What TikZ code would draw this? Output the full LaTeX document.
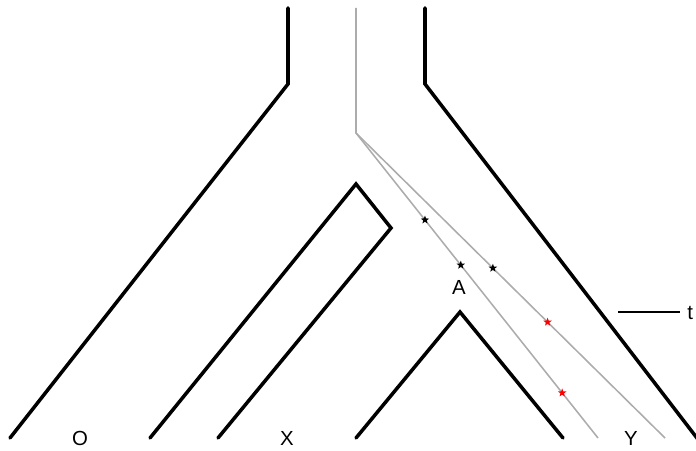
\documentclass[tikz,border=0pt]{standalone}
\usepackage{fontspec}
\setmainfont{Liberation Sans}
\usetikzlibrary{shapes.geometric,calc}

\begin{document}
\begin{tikzpicture}[x=0.025cm, y=-0.025cm,
  branch/.style={line width=2.5pt, line cap=round, line join=miter},
  gene/.style={gray!65, line width=1.1pt, line join=miter},
  mut/.style={star, star points=5, star point ratio=2.4, fill=#1, draw=none,
    inner sep=0pt, outer sep=0pt, minimum size=2.2mm},
  lbl/.style={font=\fontsize{14.5}{16}\selectfont, inner sep=0pt}]
  \useasboundingbox (0,0) rectangle (696,451);

  % species tree
  \draw[branch] (288,8) -- (288,84) -- (10,438);
  \draw[branch] (425,8) -- (425,84) -- (700,442);
  \draw[branch] (150,438) -- (356,184) -- (391,228) -- (218,438);
  \draw[branch] (356,438) -- (460,312) -- (563,438);

  % gene lineages
  \coordinate (root) at (356,8);
  \coordinate (split) at (356,133);
  \coordinate (g1) at (598,438);
  \coordinate (g2) at (665,438);
  \draw[gene] (root) -- (split) -- (g1);
  \draw[gene] (split) -- (g2);

  % mutations
  \foreach \p/\c in {0.285/black, 0.433/black, 0.852/red}
    \node[mut=\c] at ($(split)!\p!(g1)$) {};
  \foreach \p/\c in {0.443/black, 0.62/red}
    \node[mut=\c] at ($(split)!\p!(g2)$) {};

  % labels
  \node[lbl] (O) at (80,438) {O};
  \node[lbl] (X) at (287,438) {X};
  \node[lbl] (Y) at (631,438) {Y};
  \node[lbl] (A) at (459,287) {A};
  \node[lbl, anchor=west] (t) at (687,313) {t};
  \coordinate (tk) at (618,312);
  \draw[line width=1pt] (tk) -- ([xshift=-7*0.025cm]t.west |- tk);
\end{tikzpicture}
\end{document}
